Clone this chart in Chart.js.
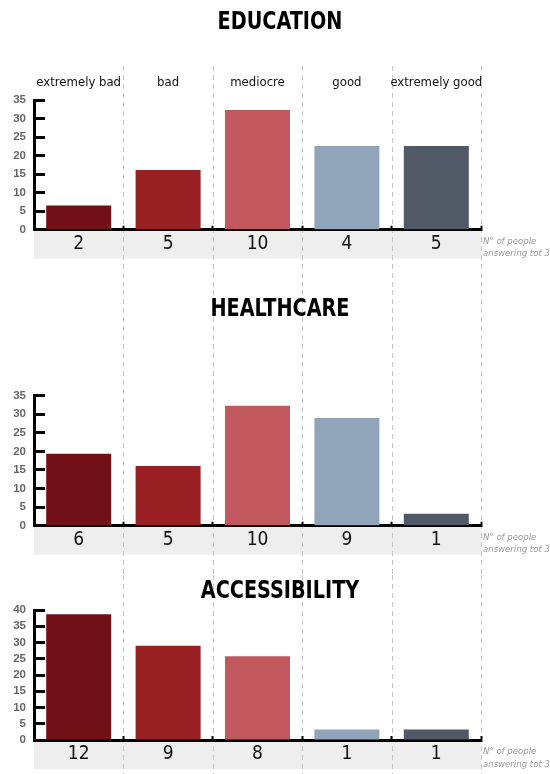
<!DOCTYPE html>
<html>
<head>
<meta charset="utf-8">
<script src="https://cdn.jsdelivr.net/npm/chart.js@4.4.1/dist/chart.umd.min.js"></script>
<style>
  html, body { margin: 0; padding: 0; background: #fff; width: 550px; height: 774px; overflow: hidden; }
  canvas { position: absolute; left: 0; display: block; }
</style>
</head>
<body>
<canvas id="education" width="550" height="290" style="top:0"></canvas>
<canvas id="healthcare" width="550" height="285" style="top:290px"></canvas>
<canvas id="accessibility" width="550" height="199" style="top:575px"></canvas>
<script>
// Answer categories shared by all three panels
const categories = ['extremely bad', 'bad', 'mediocre', 'good', 'extremely good'];

// Share of answers (%) per category
const educationShare     = [6.5, 16.1, 32.3, 22.6, 22.6];
const healthcareShare    = [19.4, 16.1, 32.3, 29.0, 3.2];
const accessibilityShare = [38.7, 29.0, 25.8, 3.2, 3.2];

// Number of people giving each answer
const educationCounts     = [2, 5, 10, 4, 5];
const healthcareCounts    = [6, 5, 10, 9, 1];
const accessibilityCounts = [12, 9, 8, 1, 1];

// Y axis ranges
const educationMax = 35;
const healthcareMax = 35;
const accessibilityMax = 40;

const noteLines = ['N\u00b0 of people', 'answering tot 31'];

const barColors = ['#711016', '#982022', '#c0585e', '#91a4ba', '#525966'];

const NARROW = '"Liberation Sans Narrow", "Arial Narrow", "DejaVu Sans Condensed", sans-serif';
const SANS = '"Liberation Sans", Arial, sans-serif';

// Grey count band, dashed category separators, panel heading and side note
const panelDecor = {
  id: 'panelDecor',
  beforeDraw(chart, args, opts) {
    const { ctx, chartArea: a, scales: { x } } = chart;
    ctx.save();
    ctx.fillStyle = '#eeeeee';
    ctx.fillRect(a.left, a.bottom, a.right - a.left, opts.bandHeight);
    const n = x.ticks.length;
    const xs = [];
    for (let i = 0; i < n - 1; i++) {
      xs.push((x.getPixelForTick(i) + x.getPixelForTick(i + 1)) / 2);
    }
    xs.push(a.right);
    ctx.strokeStyle = '#c6c6c6';
    ctx.lineWidth = 1;
    ctx.setLineDash([5, 4]);
    ctx.beginPath();
    xs.forEach(px => {
      const p = Math.round(px) + 0.5;
      ctx.moveTo(p, opts.lineTop);
      ctx.lineTo(p, chart.height);
    });
    ctx.stroke();
    ctx.restore();
  },
  afterDraw(chart, args, opts) {
    const { ctx, chartArea: a } = chart;
    ctx.save();
    ctx.fillStyle = '#000';
    ctx.font = 'bold 25px ' + NARROW;
    ctx.textAlign = 'center';
    ctx.textBaseline = 'alphabetic';
    ctx.translate(opts.headingX, opts.headingY);
    ctx.scale(0.855, 1);
    ctx.fillText(opts.heading, 0, 0);
    ctx.restore();

    ctx.save();
    ctx.fillStyle = '#999';
    ctx.font = 'italic 9.5px ' + NARROW;
    ctx.textAlign = 'left';
    ctx.textBaseline = 'middle';
    noteLines.forEach((t, i) => ctx.fillText(t, a.right + 2, a.bottom + 12 + i * 12.3));
    ctx.restore();
  }
};

function makePanel(id, cfg) {
  const scales = {
    x: {
      type: 'category',
      position: 'bottom',
      offset: true,
      grid: { display: true, drawOnChartArea: false, drawTicks: true, tickLength: -4, tickWidth: 2, tickColor: '#000', offset: true },
      border: { display: true, color: '#000', width: 3 },
      ticks: {
        padding: 6.5, color: '#111', maxRotation: 0, autoSkip: false,
        font: { family: NARROW, size: 19, lineHeight: 1.2 },
        callback: (v, i) => String(cfg.counts[i])
      },
      afterFit: s => { s.height = 30; }
    },
    y: {
      position: 'left',
      min: 0,
      max: cfg.yMax,
      grid: { display: true, drawOnChartArea: false, drawTicks: true, tickLength: -11, tickWidth: 3, tickColor: '#000' },
      border: { display: true, color: '#000', width: 3 },
      ticks: {
        stepSize: 5, padding: 19, color: '#666', autoSkip: false,
        font: { family: SANS, size: 11.5, weight: 'bold', lineHeight: 1 }
      },
      afterFit: s => { s.width = 34; }
    }
  };
  if (cfg.topAxis) {
    scales.xTop = {
      type: 'category',
      position: 'top',
      offset: true,
      grid: { display: false, drawTicks: false },
      border: { display: false },
      ticks: { padding: 9.5, color: '#111', maxRotation: 0, autoSkip: false, font: { family: NARROW, size: 13, lineHeight: 1.2 } },
      afterFit: s => { s.height = cfg.topAxis; }
    };
  }
  return new Chart(document.getElementById(id), {
    type: 'bar',
    data: {
      labels: categories,
      datasets: [{
        data: cfg.values,
        backgroundColor: barColors,
        borderWidth: 0,
        barPercentage: 0.727,
        categoryPercentage: 1
      }]
    },
    options: {
      responsive: false,
      maintainAspectRatio: false,
      animation: false,
      devicePixelRatio: 1,
      layout: { padding: { left: 0, right: 69, top: cfg.padTop, bottom: cfg.padBottom } },
      plugins: {
        legend: { display: false },
        tooltip: { enabled: false },
        title: { display: false },
        panelDecor: { heading: cfg.heading, headingX: 280, headingY: cfg.headingY, lineTop: cfg.lineTop, bandHeight: 29 }
      },
      scales
    },
    plugins: [panelDecor]
  });
}

makePanel('education', {
  values: educationShare, counts: educationCounts, yMax: educationMax,
  heading: 'EDUCATION', headingY: 29.3, topAxis: 67.5,
  padTop: 32.5, padBottom: 30.3, lineTop: 66
});
makePanel('healthcare', {
  values: healthcareShare, counts: healthcareCounts, yMax: healthcareMax,
  heading: 'HEALTHCARE', headingY: 25.7,
  padTop: 105.7, padBottom: 19.3, lineTop: 0
});
makePanel('accessibility', {
  values: accessibilityShare, counts: accessibilityCounts, yMax: accessibilityMax,
  heading: 'ACCESSIBILITY', headingY: 23.3,
  padTop: 35, padBottom: 4, lineTop: 0
});
</script>
</body>
</html>
